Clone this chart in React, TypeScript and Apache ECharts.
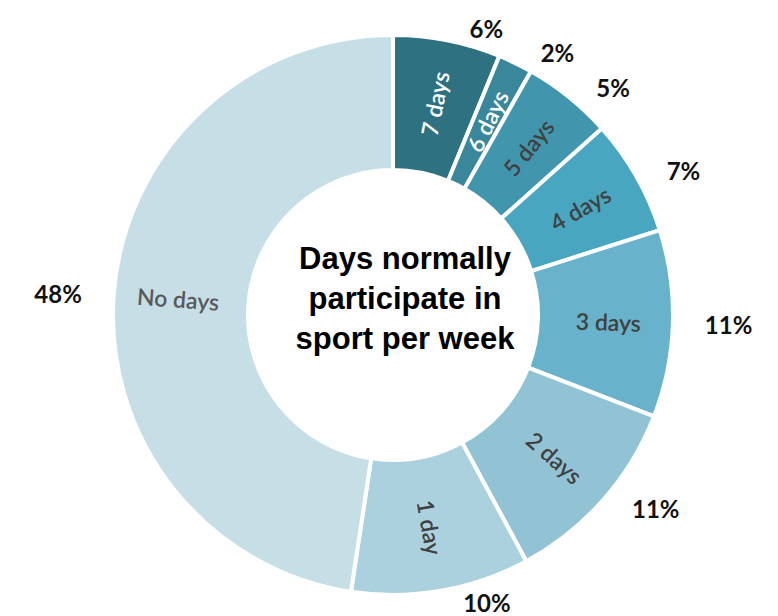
import React, { useEffect, useRef } from "react";
import * as echarts from "echarts";

const categories = ["7 days", "6 days", "5 days", "4 days", "3 days", "2 days", "1 day", "No days"];
const values = [6.2, 2.0, 5.2, 6.7, 10.8, 11.2, 10.3, 47.6];
const percentLabels = ["6%", "2%", "5%", "7%", "11%", "11%", "10%", "48%"];
const colors = ["#2e7282", "#3a879c", "#4196ae", "#48a6c0", "#68b3cb", "#92c3d4", "#abd1de", "#c6dfe7"];
const labelColors = ["#ffffff", "#ffffff", "#404040", "#404040", "#404040", "#404040", "#404040", "#595959"];
const centerTitle = ["Days normally", "participate in", "sport per week"];

export default function App() {
  const ref = useRef<HTMLDivElement>(null);
  useEffect(() => {
    document.body.style.margin = "0";
    const chart = echarts.init(ref.current!, null, { renderer: "svg" });
    const center = [393, 315];
    const radius = [145, 280];
    chart.setOption({
      animation: false,
      backgroundColor: "#ffffff",
      series: [
        {
          type: "pie",
          center,
          radius,
          startAngle: 90,
          clockwise: true,
          avoidLabelOverlap: false,
          itemStyle: { borderColor: "#ffffff", borderWidth: 4 },
          label: {
            show: true,
            position: "inside",
            rotate: "radial",
            fontFamily: "Lato",
            fontWeight: 600,
            fontSize: 23,
            formatter: (p: any) => p.name,
          },
          labelLine: { show: false },
          data: categories.map((c, i) => ({
            name: c,
            value: values[i],
            itemStyle: { color: colors[i] },
            label: { color: labelColors[i] },
          })),
        },
        {
          type: "pie",
          center,
          radius,
          startAngle: 90,
          clockwise: true,
          silent: true,
          avoidLabelOverlap: false,
          itemStyle: { color: "rgba(0,0,0,0)", borderWidth: 0 },
          label: {
            show: true,
            position: "outside",
            fontFamily: "Lato",
            fontWeight: "bold",
            fontSize: 24,
            color: "#111111",
            distanceToLabelLine: 20,
            formatter: (p: any) => percentLabels[p.dataIndex],
          },
          labelLine: { show: false, length: 12, length2: 0 },
          data: categories.map((c, i) => ({ name: c, value: values[i] })),
        },
      ],
      graphic: [
        {
          type: "text",
          x: 405,
          y: 298,
          style: {
            text: centerTitle.join("\n"),
            font: "bold 31px 'Liberation Sans', Arial, sans-serif",
            fill: "#000000",
            textAlign: "center",
            textVerticalAlign: "middle",
            lineHeight: 40,
          },
        },
      ],
    });
    return () => chart.dispose();
  }, []);
  return <div ref={ref} style={{ width: 778, height: 616 }} />;
}
